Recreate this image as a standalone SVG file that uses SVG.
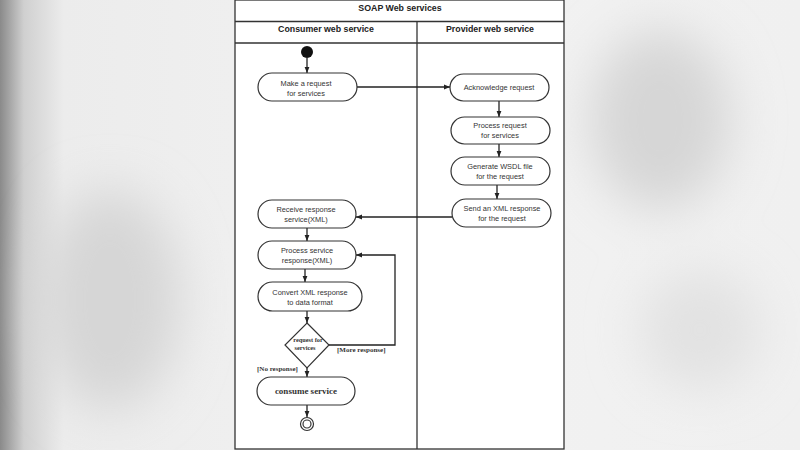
<svg xmlns="http://www.w3.org/2000/svg" width="800" height="450" viewBox="0 0 800 450">
<defs>
<linearGradient id="lg" x1="0" y1="0" x2="1" y2="0">
<stop offset="0" stop-color="#8a8a8a"/>
<stop offset="0.03" stop-color="#d0d0d0"/>
<stop offset="0.08" stop-color="#ececec"/>
<stop offset="0.5" stop-color="#f2f2f2"/>
<stop offset="1" stop-color="#f0f0f0"/>
</linearGradient>
<filter id="blur" x="-50%" y="-50%" width="200%" height="200%"><feGaussianBlur stdDeviation="25"/></filter>
<marker id="arr" viewBox="0 0 10 10" refX="10" refY="5" markerWidth="6" markerHeight="6" orient="auto" markerUnits="userSpaceOnUse">
<path d="M0,1 L10,5 L0,9 z" fill="#222"/>
</marker>
<style>
.frame{fill:#fff;stroke:#333;stroke-width:1.3}
.ln{fill:none;stroke:#333;stroke-width:1.3}
.act{fill:#fff;stroke:#333;stroke-width:1.2}
.con{fill:none;stroke:#222;stroke-width:1.3;marker-end:url(#arr)}
.t{font-family:"Liberation Sans",Arial,sans-serif;font-size:7.4px;fill:#333;text-anchor:middle}
.h{font-family:"Liberation Sans",Arial,sans-serif;font-size:8.8px;font-weight:bold;fill:#222;text-anchor:middle}
.s{font-family:"Liberation Serif","Times New Roman",serif;font-weight:bold;fill:#333}
</style>
</defs>
<rect width="800" height="450" fill="url(#lg)"/>
<g filter="url(#blur)" fill="#d6d6d6">
<ellipse cx="110" cy="300" rx="70" ry="110"/>
<ellipse cx="660" cy="120" rx="70" ry="90"/>
<ellipse cx="700" cy="330" rx="60" ry="60" fill="#e2e2e2"/>
</g>
<g id="frame">
<rect class="frame" x="235" y="0" width="329" height="449"/>
<line class="ln" x1="235" y1="21.5" x2="564" y2="21.5"/>
<line class="ln" x1="235" y1="43" x2="564" y2="43"/>
<line class="ln" x1="417" y1="21.5" x2="417" y2="449"/>
<text class="h" x="400" y="11">SOAP Web services</text>
<text class="h" x="326" y="32">Consumer web service</text>
<text class="h" x="490" y="32">Provider web service</text>
</g>
<g id="connectors">
<line class="con" x1="307" y1="58" x2="307" y2="73"/>
<line class="con" x1="357" y1="87" x2="450" y2="87"/>
<line class="con" x1="499" y1="101" x2="499" y2="117"/>
<line class="con" x1="499" y1="144" x2="499" y2="157"/>
<line class="con" x1="497" y1="185" x2="497" y2="199"/>
<line class="con" x1="452" y1="217" x2="356" y2="217"/>
<line class="con" x1="307" y1="228" x2="307" y2="241"/>
<line class="con" x1="305" y1="269" x2="305" y2="282"/>
<line class="con" x1="307" y1="311" x2="307" y2="323"/>
<polyline class="con" points="329,345 395,345 395,255 356,255"/>
<line class="con" x1="307" y1="368" x2="307" y2="377"/>
<line class="con" x1="307" y1="405" x2="307" y2="417"/>
<text class="s" x="337" y="352" font-size="7">[More response]</text>
<text class="s" x="257" y="371" font-size="7">[No response]</text>
</g>
<g id="start"><circle cx="307" cy="52" r="6" fill="#111"/></g>
<g id="make-request">
<rect class="act" x="258" y="73" width="99" height="28" rx="14"/>
<text class="t" x="306" y="86">Make a request</text>
<text class="t" x="306" y="96">for services</text>
</g>
<g id="acknowledge">
<rect class="act" x="450" y="74" width="99" height="27" rx="13.5"/>
<text class="t" x="499" y="90">Acknowledge request</text>
</g>
<g id="process-request">
<rect class="act" x="451" y="117" width="99" height="27" rx="13.5"/>
<text class="t" x="500" y="128">Process request</text>
<text class="t" x="500" y="138">for services</text>
</g>
<g id="generate-wsdl">
<rect class="act" x="451" y="157" width="99" height="28" rx="14"/>
<text class="t" x="500" y="169">Generate WSDL file</text>
<text class="t" x="500" y="179">for the request</text>
</g>
<g id="send-xml">
<rect class="act" x="452" y="199" width="99" height="28" rx="14"/>
<text class="t" x="502" y="211">Send an XML response</text>
<text class="t" x="502" y="221">for the request</text>
</g>
<g id="receive-response">
<rect class="act" x="258" y="200" width="98" height="28" rx="14"/>
<text class="t" x="306" y="212">Receive response</text>
<text class="t" x="306" y="222">service(XML)</text>
</g>
<g id="process-service">
<rect class="act" x="258" y="241" width="98" height="28" rx="14"/>
<text class="t" x="307" y="253">Process service</text>
<text class="t" x="307" y="263">response(XML)</text>
</g>
<g id="convert-xml">
<rect class="act" x="258" y="282" width="104" height="29" rx="14.5"/>
<text class="t" x="310" y="295">Convert XML response</text>
<text class="t" x="310" y="305">to data format</text>
</g>
<g id="decision">
<polygon class="act" points="307,323 329,345 307,368 285,345"/>
<text class="s" x="308" y="342" font-size="6.3" text-anchor="middle">request for</text>
<text class="s" x="305" y="350" font-size="6.3" text-anchor="middle">services</text>
</g>
<g id="consume-service">
<rect class="act" x="257" y="377" width="98" height="28" rx="14"/>
<text class="s" x="306" y="394" font-size="9" text-anchor="middle">consume service</text>
</g>
<g id="end">
<circle cx="307" cy="424" r="6.5" fill="#fff" stroke="#333" stroke-width="1.2"/>
<circle cx="307" cy="424" r="4" fill="#fff" stroke="#333" stroke-width="1.2"/>
</g>
</svg>
